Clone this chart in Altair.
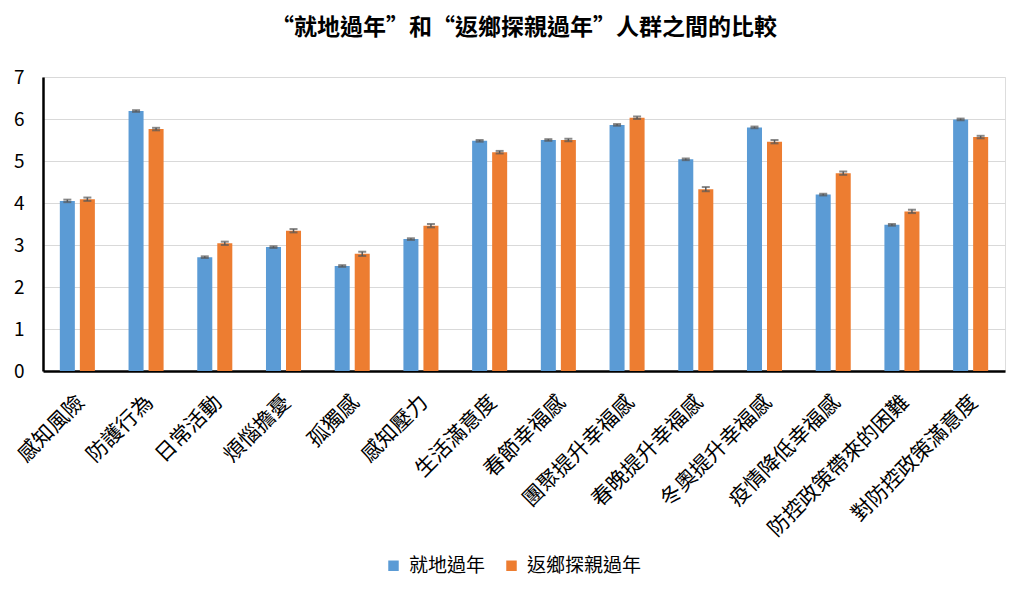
import altair as alt
import pandas as pd

categories = ["感知風險", "防護行為", "日常活動", "煩惱擔憂", "孤獨感", "感知壓力", "生活滿意度",
              "春節幸福感", "團聚提升幸福感", "春晚提升幸福感", "冬奧提升幸福感", "疫情降低幸福感",
              "防控政策帶來的困難", "對防控政策滿意度"]
series = ["就地過年", "返鄉探親過年"]
local_vals = [4.05, 6.19, 2.71, 2.95, 2.50, 3.14, 5.48, 5.50, 5.86, 5.04, 5.80, 4.20, 3.48, 5.99]
home_vals = [4.09, 5.76, 3.04, 3.34, 2.79, 3.46, 5.21, 5.50, 6.03, 4.33, 5.46, 4.71, 3.80, 5.57]
local_err = [0.03, 0.02, 0.02, 0.02, 0.02, 0.02, 0.02, 0.02, 0.02, 0.02, 0.02, 0.02, 0.02, 0.02]
home_err = [0.04, 0.03, 0.04, 0.04, 0.05, 0.04, 0.03, 0.03, 0.03, 0.05, 0.04, 0.04, 0.04, 0.03]
y_ticks = [0, 1, 2, 3, 4, 5, 6, 7]
colors = ["#5B9BD5", "#ED7D31"]

rows = []
for i, c in enumerate(categories):
    rows.append({"cat": c, "grp": series[0], "v": local_vals[i],
                 "lo": local_vals[i] - local_err[i], "hi": local_vals[i] + local_err[i]})
    rows.append({"cat": c, "grp": series[1], "v": home_vals[i],
                 "lo": home_vals[i] - home_err[i], "hi": home_vals[i] + home_err[i]})
df = pd.DataFrame(rows)

font = "Noto Sans CJK TC"

x_axis = alt.Axis(labelAngle=-45, labelAlign="right", labelBaseline="middle",
                  labelFontSize=21, labelColor="#000000", labelFont=font,
                  labelPadding=28, labelOffset=4, ticks=False, domainColor="#000000",
                  domainWidth=2.5, labelLimit=400)
x = alt.X("cat:N", sort=categories, title=None,
          scale=alt.Scale(paddingInner=0.49, paddingOuter=0.245), axis=x_axis)
xo = alt.XOffset("grp:N", sort=series, scale=alt.Scale(paddingInner=0.25))

y_axis = alt.Axis(values=y_ticks, ticks=False, labelOverlap=False,
                  labelFontSize=19, labelColor="#000000", labelFont=font,
                  labelPadding=19, domainColor="#000000", domainWidth=2.5,
                  gridColor="#d9d9d9", gridWidth=1.2)
y_scale = alt.Scale(domain=[0, 7], nice=False)

base = alt.Chart(df)

bars = base.mark_bar().encode(
    x=x, xOffset=xo,
    y=alt.Y("v:Q", title=None, scale=y_scale, axis=y_axis),
    color=alt.Color("grp:N", sort=series, title=None,
                    scale=alt.Scale(domain=series, range=colors),
                    legend=alt.Legend(orient="none", legendX=341, legendY=479,
                                      direction="horizontal", symbolType="square",
                                      symbolSize=110, symbolStrokeWidth=0,
                                      labelFontSize=19, labelFont=font, labelColor="#000000",
                                      columnPadding=16, labelOffset=6)),
)

rules = base.mark_rule(color="#595959", strokeWidth=1.5).encode(
    x=x, xOffset=xo, y=alt.Y("lo:Q", title=None, scale=y_scale, axis=y_axis), y2="hi:Q")
caps_hi = base.mark_tick(color="#595959", size=8, thickness=2).encode(
    x=x, xOffset=xo, y=alt.Y("hi:Q", title=None, scale=y_scale, axis=y_axis))
caps_lo = base.mark_tick(color="#595959", size=8, thickness=2).encode(
    x=x, xOffset=xo, y=alt.Y("lo:Q", title=None, scale=y_scale, axis=y_axis))

chart = alt.layer(bars, rules, caps_hi, caps_lo).properties(
    width=962, height=294,
    title=alt.TitleParams("“就地過年”和“返鄉探親過年”人群之間的比較", font=font,
                          fontSize=23, fontWeight="bold", color="#000000",
                          anchor="middle", offset=28),
    autosize=alt.AutoSizeParams(type="none"),
    padding={"left": 43, "top": 77, "right": 19, "bottom": 225},
).configure_view(stroke=None).configure(background="white")

chart.save("out.html", embed_options={"renderer": "svg", "actions": False})
